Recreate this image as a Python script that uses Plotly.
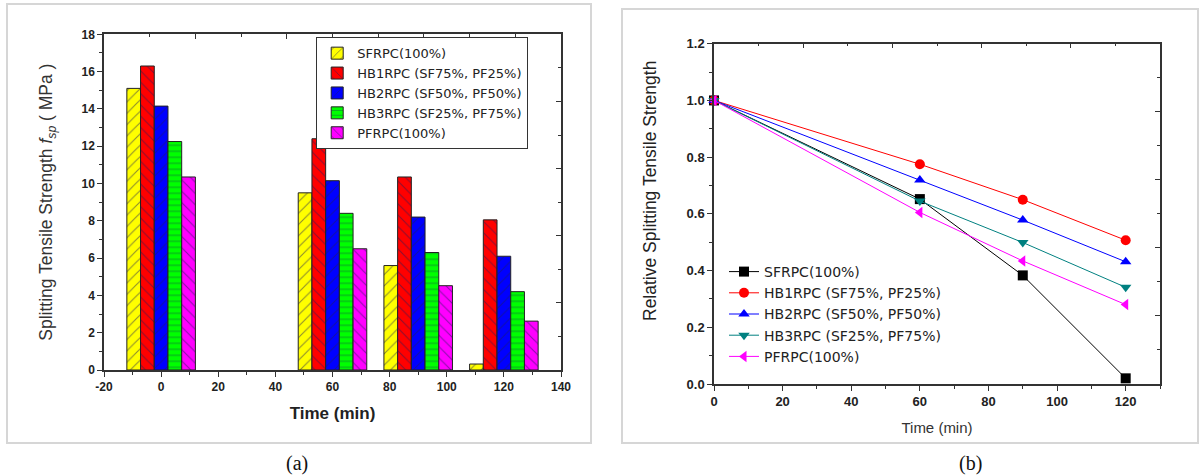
import plotly.graph_objects as go

# ---------------- data ----------------
series_names = ["SFRPC(100%)", "HB1RPC (SF75%, PF25%)", "HB2RPC (SF50%, PF50%)",
                "HB3RPC (SF25%, PF75%)", "PFRPC(100%)"]
bar_times = [0, 60, 90, 120]
sf_strength = [15.1, 9.5, 5.6, 0.32]
hb1_strength = [16.3, 12.4, 10.35, 8.05]
hb2_strength = [14.15, 10.15, 8.2, 6.1]
hb3_strength = [12.25, 8.4, 6.3, 4.2]
pf_strength = [10.35, 6.5, 4.52, 2.62]

rel_times = [0, 60, 90, 120]
sf_rel = [1.0, 0.652, 0.383, 0.02]
hb1_rel = [1.0, 0.775, 0.65, 0.507]
hb2_rel = [1.0, 0.719, 0.578, 0.431]
hb3_rel = [1.0, 0.645, 0.499, 0.341]
pf_rel = [1.0, 0.605, 0.434, 0.28]

left_xticks = [-20, 0, 20, 40, 60, 80, 100, 120, 140]
left_xticklabels = ["-20", "0", "20", "40", "60", "80", "100", "120", "140"]

# ---------------- styling ----------------
W, H = 1202, 476
def px(x):
    return x / W
def py(y):
    return 1 - y / H

AX = "#333333"
bar_colors = ["#FFFF00", "#FF0000", "#0000FF", "#00FF00", "#FF00FF"]
bar_shapes = ["/", "\\", "/", "-", "\\"]
line_colors = ["#000000", "#FF0000", "#0000FF", "#008080", "#FF00FF"]
marker_symbols = ["square", "circle", "triangle-up", "triangle-down", "triangle-left"]

bar_values = [sf_strength, hb1_strength, hb2_strength, hb3_strength, pf_strength]
rel_values = [sf_rel, hb1_rel, hb2_rel, hb3_rel, pf_rel]

fig = go.Figure()

for name, vals, col, shp in zip(series_names, bar_values, bar_colors, bar_shapes):
    fig.add_trace(go.Bar(
        x=bar_times, y=vals, name=name, xaxis="x", yaxis="y",
        marker=dict(color=col, line=dict(color="#222222", width=1),
                    pattern=dict(shape=shp, fgcolor="#1c1c5a", size=6 if shp == "-" else 8,
                                 solidity=0.14, fillmode="overlay")),
        legend="legend",
    ))

for name, vals, col, sym in zip(series_names, rel_values, line_colors, marker_symbols):
    fig.add_trace(go.Scatter(
        x=rel_times, y=vals, name=name, xaxis="x2", yaxis="y2",
        mode="lines+markers", cliponaxis=False,
        line=dict(color=col, width=1),
        marker=dict(symbol=sym, size=10, color=col),
        legend="legend2",
    ))

# empty traces to activate the mirror (top / right) axes
fig.add_trace(go.Scatter(x=[], y=[], xaxis="x3", yaxis="y3", showlegend=False, hoverinfo="skip"))
fig.add_trace(go.Scatter(x=[], y=[], xaxis="x4", yaxis="y4", showlegend=False, hoverinfo="skip"))

def tickfont(size):
    return dict(family="Liberation Sans, Arial", size=size, color="#222222", weight="bold")

def main_axis(fs, **kw):
    d = dict(showline=True, linecolor=AX, linewidth=1.5, ticks="outside", ticklen=5,
             tickwidth=1.2, tickcolor=AX, showgrid=False, zeroline=False, tickfont=tickfont(fs),
             automargin=False)
    d.update(kw)
    return d

def mirror_axis(**kw):
    d = dict(showline=True, linecolor=AX, linewidth=1.5, ticks="inside", ticklen=5,
             tickwidth=1.2, tickcolor=AX, showgrid=False, zeroline=False, automargin=False,
             showticklabels=False, range=[0, 10], tick0=0, dtick=2,
             minor=dict(ticks="inside", ticklen=3, tickcolor=AX, dtick=1, tick0=0, showgrid=False))
    d.update(kw)
    return d

fig.update_layout(
    width=W, height=H,
    margin=dict(l=0, r=0, t=0, b=0, autoexpand=False),
    paper_bgcolor="white", plot_bgcolor="white",
    barmode="group", bargap=0.2, bargroupgap=0,
    showlegend=True,
    xaxis=main_axis(
        12, domain=[px(104), px(561)], anchor="y", range=[-20, 140],
        tickmode="array", tickvals=left_xticks, ticktext=left_xticklabels,
        minor=dict(ticks="outside", ticklen=3, tickcolor=AX, dtick=10, tick0=0, showgrid=False),
        title=dict(text="Time (min)", standoff=14,
                   font=dict(family="Liberation Sans, Arial", size=17, color="#222222", weight="bold")),
    ),
    yaxis=main_axis(
        12, domain=[py(370), py(34.3)], anchor="x", range=[0, 18], tick0=0, dtick=2,
        minor=dict(ticks="outside", ticklen=3, tickcolor=AX, dtick=1, tick0=0, showgrid=False),
        title=dict(text="Splitting Tensile Strength <i>f</i><sub><i>sp</i></sub> ( MPa )", standoff=24,
                   font=dict(family="Liberation Sans, Arial", size=17.5, color="#333333")),
    ),
    xaxis3=mirror_axis(overlaying="x", side="top", anchor="y"),
    yaxis3=mirror_axis(overlaying="y", side="right", anchor="x"),
    xaxis2=main_axis(
        13, domain=[px(714), px(1160)], anchor="y2", range=[0, 130], tick0=0, dtick=20,
        minor=dict(ticks="outside", ticklen=3, tickcolor=AX, dtick=10, tick0=0, showgrid=False),
        title=dict(text="Time (min)", standoff=14,
                   font=dict(family="Liberation Sans, Arial", size=15, color="#333333")),
    ),
    yaxis2=main_axis(
        13, domain=[py(384), py(43.7)], anchor="x2", range=[0, 1.2], tick0=0, dtick=0.2,
        tickformat=".1f",
        minor=dict(ticks="outside", ticklen=3, tickcolor=AX, dtick=0.1, tick0=0, showgrid=False),
    ),
    xaxis4=mirror_axis(overlaying="x2", side="top", anchor="y2"),
    yaxis4=mirror_axis(overlaying="y2", side="right", anchor="x2"),
    legend=dict(
        x=px(316), y=py(37), xanchor="left", yanchor="top",
        bgcolor="white", bordercolor="#333333", borderwidth=1.2,
        font=dict(family="DejaVu Sans", size=13, color="#222222"),
        tracegroupgap=0, itemwidth=30,
    ),
    legend2=dict(
        x=px(724), y=py(256), xanchor="left", yanchor="top",
        bgcolor="rgba(0,0,0,0)", borderwidth=0,
        font=dict(family="DejaVu Sans", size=14, color="#222222"),
        tracegroupgap=0, itemwidth=30,
    ),
    shapes=[
        dict(type="rect", xref="paper", yref="paper", x0=px(7), x1=px(591), y0=py(443), y1=py(4),
             line=dict(color="#d6d6d6", width=2)),
        dict(type="rect", xref="paper", yref="paper", x0=px(622), x1=px(1198), y0=py(443), y1=py(9),
             line=dict(color="#d6d6d6", width=2)),
    ],
    annotations=[
        dict(text="Relative Splitting Tensile Strength", xref="paper", yref="paper",
             x=px(650), y=py(191), xanchor="center", yanchor="middle", textangle=-90,
             showarrow=False,
             font=dict(family="Liberation Sans, Arial", size=17.5, color="#222222")),
        dict(text="(a)", xref="paper", yref="paper", x=px(297), y=py(463),
             xanchor="center", yanchor="middle", showarrow=False,
             font=dict(family="Liberation Serif, Times New Roman", size=20, color="#111111")),
        dict(text="(b)", xref="paper", yref="paper", x=px(971), y=py(463),
             xanchor="center", yanchor="middle", showarrow=False,
             font=dict(family="Liberation Serif, Times New Roman", size=20, color="#111111")),
    ],
)

fig.write_html("out.html", config=dict(displayModeBar=False),
               post_script="document.body.style.margin='0';document.body.style.overflow='hidden';")
